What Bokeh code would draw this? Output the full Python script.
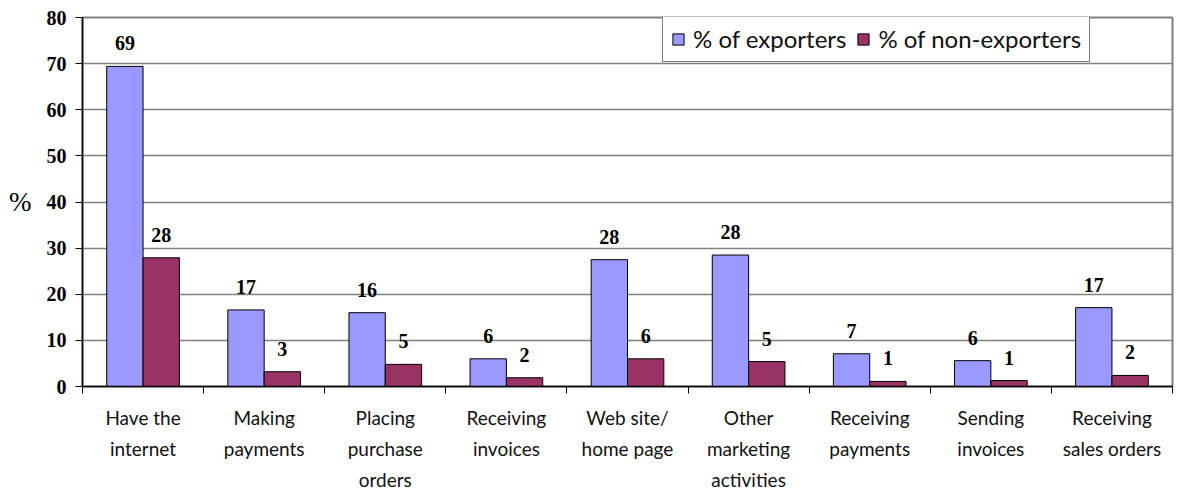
from bokeh.plotting import figure
from bokeh.models import (Range1d, FixedTicker, ColumnDataSource, Legend, LegendItem, LinearAxis)
from bokeh.core.properties import value
from bokeh.embed import file_html
from bokeh.resources import INLINE
import numpy as np

categories = ["Have the\ninternet", "Making\npayments", "Placing\npurchase\norders",
              "Receiving\ninvoices", "Web site/\nhome page", "Other\nmarketing\nactivities",
              "Receiving\npayments", "Sending\ninvoices", "Receiving\nsales orders"]
exporters = [69.4, 16.6, 16.0, 6.0, 27.5, 28.5, 7.1, 5.6, 17.1]
non_exporters = [27.9, 3.2, 4.8, 1.9, 6.0, 5.4, 1.1, 1.3, 2.4]
exporters_labels = ["69", "17", "16", "6", "28", "28", "7", "6", "17"]
non_exporters_labels = ["28", "3", "5", "2", "6", "5", "1", "1", "2"]
y_ticks = [0, 10, 20, 30, 40, 50, 60, 70, 80]

n = len(categories)
centers = np.arange(n) + 0.5
bar_w = 0.3

src_e = ColumnDataSource(dict(x=centers - bar_w / 2, top=exporters, lab=exporters_labels))
src_n = ColumnDataSource(dict(x=centers + bar_w / 2, top=non_exporters, lab=non_exporters_labels))

p = figure(width=1178, height=493, output_backend="svg", toolbar_location=None,
           x_range=Range1d(0, n), y_range=Range1d(0, 80),
           min_border_left=82, min_border_right=6, min_border_top=17, min_border_bottom=10)
p.background_fill_color = "white"
p.border_fill_color = "white"
p.outline_line_color = "#808080"
p.outline_line_width = 2

# grid
p.xgrid.grid_line_color = None
p.ygrid.ticker = FixedTicker(ticks=y_ticks)
p.ygrid.grid_line_color = "#808080"
p.ygrid.grid_line_width = 1.5

# y axis
p.yaxis.ticker = FixedTicker(ticks=y_ticks)
p.yaxis.axis_line_color = "black"
p.yaxis.axis_line_width = 1.5
p.yaxis.major_tick_out = 7
p.yaxis.major_tick_in = 0
p.yaxis.major_tick_line_color = "black"
p.yaxis.minor_tick_line_color = None
p.yaxis.major_label_text_font = "Liberation Serif"
p.yaxis.major_label_text_font_style = "bold"
p.yaxis.major_label_text_font_size = "20px"
p.yaxis.major_label_text_color = "black"
p.yaxis.major_label_standoff = 9

# "%" label as an outer left axis with a single labelled tick
pct_axis = LinearAxis(ticker=FixedTicker(ticks=[40]), major_label_overrides={40: "%"})
pct_axis.axis_line_color = None
pct_axis.major_tick_line_color = None
pct_axis.minor_tick_line_color = None
pct_axis.major_tick_out = 0
pct_axis.major_tick_in = 0
pct_axis.major_label_text_font = "Liberation Serif"
pct_axis.major_label_text_font_size = "27px"
pct_axis.major_label_text_color = "black"
pct_axis.major_label_standoff = 12
p.add_layout(pct_axis, "left")

# x axis
p.xaxis.ticker = FixedTicker(ticks=list(centers), minor_ticks=list(range(n + 1)))
p.xaxis.major_label_overrides = {float(c): lab for c, lab in zip(centers, categories)}
p.xaxis.axis_line_color = "black"
p.xaxis.axis_line_width = 1.5
p.xaxis.major_tick_line_color = None
p.xaxis.major_tick_out = 0
p.xaxis.major_tick_in = 0
p.xaxis.minor_tick_out = 7
p.xaxis.minor_tick_in = 0
p.xaxis.minor_tick_line_color = "black"
p.xaxis.major_label_text_font = "Lato"
p.xaxis.major_label_text_font_size = "19px"
p.xaxis.major_label_text_color = "#111111"
p.xaxis.major_label_text_line_height = 1.35
p.xaxis.major_label_standoff = 12

r_e = p.vbar(x="x", top="top", width=bar_w, source=src_e, fill_color="#9999FF",
             line_color="black", line_width=1)
r_n = p.vbar(x="x", top="top", width=bar_w, source=src_n, fill_color="#993366",
             line_color="black", line_width=1)

for src in (src_e, src_n):
    p.text(x="x", y="top", text="lab", source=src, y_offset=-23,
           text_font=value("Liberation Serif"), text_font_style="bold",
           text_font_size="20px", text_align="center", text_baseline="middle",
           text_color="black")

legend = Legend(items=[LegendItem(label="% of exporters", renderers=[r_e]),
                       LegendItem(label="% of non-exporters", renderers=[r_n])],
                orientation="horizontal", location=(580, 324),
                label_text_font="Lato", label_text_font_size="24px",
                label_text_color="#111111",
                glyph_width=14, glyph_height=14, label_standoff=8, spacing=10,
                padding=8, margin=0, label_height=24,
                border_line_color="black", border_line_width=1.5,
                background_fill_color="white", background_fill_alpha=1)
p.add_layout(legend)

open("out.html", "w").write(file_html(p, INLINE))
